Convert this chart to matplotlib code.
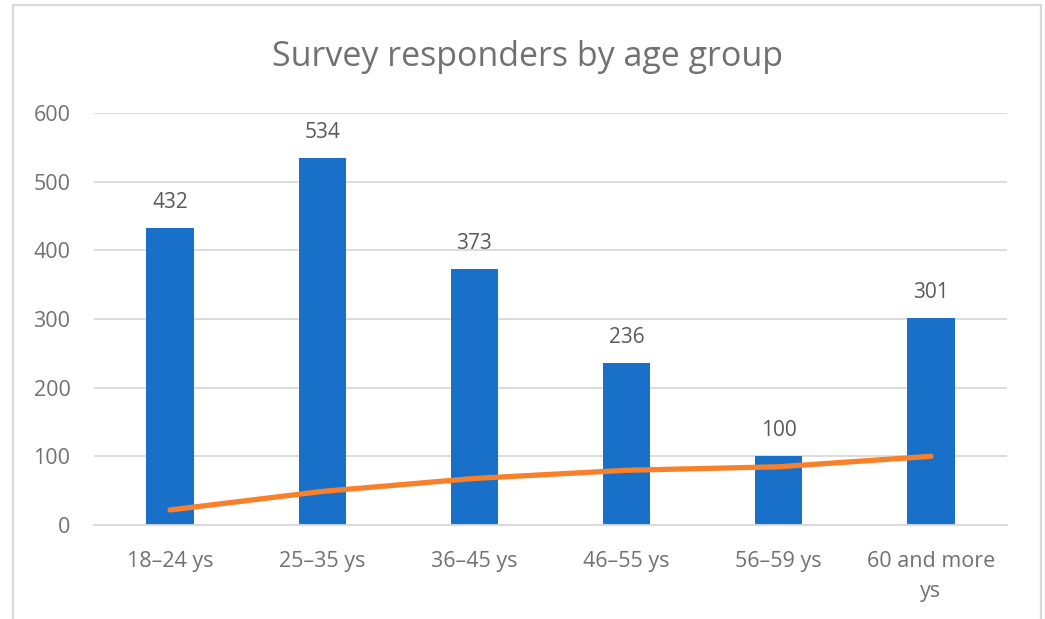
import matplotlib.pyplot as plt
from matplotlib.patches import Rectangle

age_groups = ['18–24 ys', '25–35 ys', '36–45 ys', '46–55 ys', '56–59 ys', '60 and more\nys']
responders = [432, 534, 373, 236, 100, 301]
# cumulative share of responders, in percent
cumulative_pct = [21.9, 48.9, 67.8, 79.7, 84.8, 100.0]

plt.rcParams['font.family'] = ['Open Sans', 'DejaVu Sans']
label_grey = '#595959'
axis_grey = '#717171'

fig = plt.figure(figsize=(10.45, 6.19), dpi=100)
W, H = 1045, 619
ax = fig.add_axes([94 / W, 1 - 525 / H, (1007 - 94) / W, (525 - 113) / H])

# chart border
fig.patches.append(Rectangle((13 / W, -0.1), (1041 - 13) / W, 1 - 5 / H + 0.1,
                             transform=fig.transFigure, fill=False,
                             edgecolor='#d9d9d9', linewidth=1.6))

x = range(len(age_groups))
bars = ax.bar(x, responders, width=0.31, color='#1870c8', zorder=2)
for b, v in zip(bars, responders):
    ax.text(b.get_x() + b.get_width() / 2, v + 22, str(v), ha='center', va='bottom',
            fontsize=15, color=label_grey)

ax.plot(x, cumulative_pct, color='#f9802b', linewidth=3.8,
        solid_capstyle='round', zorder=3)

ax.set_xlim(-0.5, len(age_groups) - 0.5)
ax.set_ylim(0, 600)
ax.set_yticks(range(0, 601, 100))
ax.grid(axis='y', color='#d9d9d9', linewidth=1.3, zorder=0)
ax.set_axisbelow(True)
for side in ['top', 'right', 'left']:
    ax.spines[side].set_visible(False)
ax.spines['bottom'].set_color('#d9d9d9')
ax.spines['bottom'].set_linewidth(1.3)
ax.tick_params(length=0, labelsize=15.5, labelcolor=axis_grey)
ax.tick_params(axis='x', pad=19)
ax.tick_params(axis='y', pad=17)
ax.set_xticks(list(x))
ax.set_xticklabels(age_groups, linespacing=1.55)

fig.text(0.505, 1 - 57 / H, 'Survey responders by age group', ha='center', va='center',
         fontsize=24.5, color=axis_grey)

fig.savefig('out.png', dpi=100)
